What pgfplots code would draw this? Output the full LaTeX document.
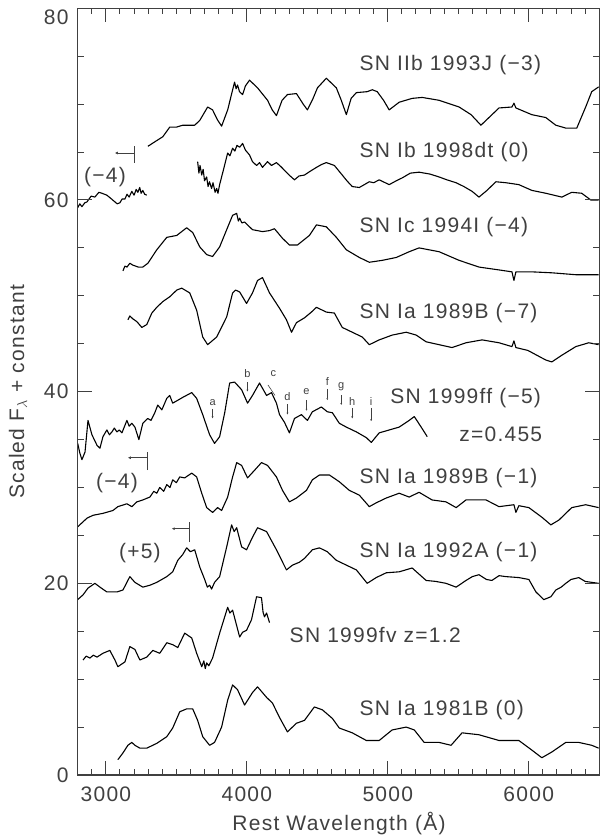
\documentclass[border=0pt]{standalone}
\usepackage{fontspec}
\setmainfont{Liberation Sans}[LetterSpace=6.0]
\usepackage{pgfplots}
\pgfplotsset{compat=1.18}
\usetikzlibrary{arrows.meta}
\definecolor{txt}{gray}{0.25}
\newcommand{\bigf}{\fontsize{21}{25}\selectfont}
\newcommand{\smf}{\fontsize{11}{13}\selectfont}
\tikzset{
  lbl/.style={font=\bigf, text=txt, anchor=west, inner sep=0pt},
  clbl/.style={font=\bigf, text=txt, inner sep=0pt},
  slbl/.style={font=\smf, text=txt, inner sep=0pt},
  bar/.style={black!75, line width=0.8pt},
  larr/.style={black!75, line width=0.8pt, {Latex[length=3pt,width=3pt]}-},
  darr/.style={black!75, line width=0.6pt, -{Latex[length=2pt,width=2pt]}},
  frm/.style={black!75, line width=1.2pt},
  tck/.style={black!75, line width=1pt},
}
\begin{document}
\begin{tikzpicture}
\path (0pt,0pt) rectangle (600pt,838pt);
\begin{axis}[
  at={(77.7pt,63pt)}, anchor=south west,
  scale only axis, width=521.5pt, height=766.7pt,
  xmin=2800, xmax=6500, ymin=0, ymax=80,
  xtick={3000,4000,5000,6000},
  minor xtick={2800,2900,...,6500},
  ytick={0,20,40,60,80},
  yticklabels={0,20,40,60,{}},
  minor ytick={5,10,...,75},
  tick align=inside, major tick length=14pt, minor tick length=6pt,
  tick style={black!75, line width=1pt},
  axis line style={black!75, line width=1.2pt},
  /pgf/number format/assume math mode=true,
  /pgf/number format/1000 sep={},
  xticklabel style={font=\bigf, text=txt, inner sep=0pt, yshift=-12pt},
  yticklabel style={font=\bigf, text=txt, inner sep=0pt, xshift=-9pt},
  spec/.style={black, line width=1.1pt, line join=round, mark=none, solid},
]
% SN IIb 1993J (-3)
\addplot[spec] coordinates {
(3298,65.6)(3340,66.0)(3404,66.6)(3453,67.6)(3500,67.6)(3545,67.8)(3630,67.8)(3666,68.3)(3722,69.7)(3757,69.4)(3790,68.4)(3821,67.7)(3864,69.4)(3913,72.3)(3924,71.6)(3934,72.0)(3948,71.3)(3970,71.0)(3990,71.9)(4019,72.5)(4076,71.7)(4147,70.4)(4180,69.4)(4210,68.8)(4250,70.4)(4288,71.0)(4352,71.1)(4400,70.0)(4430,69.4)(4470,70.6)(4501,71.7)(4564,72.7)(4635,71.7)(4670,70.4)(4706,68.9)(4740,70.6)(4777,71.2)(4854,71.3)(4890,71.5)(4925,71.3)(4970,70.4)(5010,69.4)(5081,70.2)(5173,70.6)(5244,70.7)(5364,70.4)(5506,69.7)(5591,68.9)(5661,67.8)(5718,68.6)(5789,69.6)(5881,69.7)(5895,70.1)(5909,69.6)(6022,68.9)(6121,68.6)(6192,67.8)(6263,67.5)(6341,67.5)(6404,69.7)(6447,71.3)(6496,71.8)
};
% SN Ib 1998dt (0) - short piece
\addplot[spec] coordinates {
(2800,59.2)(2815,59.6)(2830,59.3)(2850,59.7)(2866,59.8)(2895,60.4)(2922,60.3)(2950,60.8)(2972,60.7)(3007,60.5)(3040,60.1)(3064,59.8)(3080,59.6)(3099,59.7)(3115,60.1)(3135,60.1)(3150,60.6)(3165,60.3)(3184,60.9)(3200,60.5)(3215,61.1)(3227,60.8)(3240,61.3)(3250,60.7)(3262,61.0)(3275,60.6)(3290,60.5)
};
% SN Ib 1998dt (0) - main
\addplot[spec] coordinates {
(3651,64.0)(3660,62.8)(3668,63.6)(3680,62.6)(3690,63.2)(3700,62.0)(3715,62.4)(3725,61.4)(3735,61.9)(3750,61.2)(3760,61.8)(3775,60.8)(3786,61.2)(3795,60.7)(3807,61.6)(3828,62.8)(3864,64.9)(3880,64.6)(3899,65.4)(3915,65.1)(3930,65.7)(3949,65.5)(3970,65.9)(3990,65.2)(4019,64.7)(4040,64.0)(4069,63.6)(4090,63.9)(4111,63.4)(4147,64.0)(4175,63.6)(4210,63.9)(4240,63.5)(4267,63.1)(4300,62.6)(4338,62.1)(4370,62.5)(4409,62.6)(4450,63.0)(4494,63.4)(4530,63.7)(4564,63.9)(4621,63.6)(4677,62.6)(4710,62.0)(4748,61.4)(4798,61.3)(4869,61.9)(4900,61.8)(4939,62.1)(5010,61.6)(5060,62.0)(5102,62.3)(5160,62.8)(5222,62.9)(5300,62.7)(5364,62.4)(5420,62.1)(5484,61.8)(5540,61.4)(5598,60.9)(5647,60.3)(5704,61.0)(5767,61.9)(5838,61.8)(5930,61.6)(6022,61.0)(6121,60.7)(6235,60.3)(6305,60.8)(6376,60.7)(6440,60.0)(6496,60.0)
};
% SN Ic 1994I (-4)
\addplot[spec] coordinates {
(3121,52.6)(3135,53.1)(3150,53.0)(3170,53.4)(3191,53.2)(3230,53.0)(3262,53.0)(3298,53.4)(3361,54.8)(3432,56.1)(3503,56.3)(3573,57.1)(3616,56.6)(3666,55.1)(3715,54.3)(3757,54.1)(3807,55.1)(3857,56.9)(3899,58.4)(3928,58.6)(3940,57.8)(3949,58.1)(3965,57.6)(3984,57.7)(4040,56.9)(4111,56.7)(4160,56.8)(4196,57.0)(4253,56.0)(4302,55.3)(4359,55.3)(4444,56.3)(4494,57.4)(4564,57.2)(4635,56.1)(4706,54.8)(4798,54.0)(4869,53.5)(4961,53.7)(5060,54.0)(5152,54.6)(5222,55.0)(5364,54.6)(5506,53.7)(5647,53.0)(5789,52.7)(5881,52.5)(5895,51.6)(5909,52.5)(6022,52.5)(6164,52.4)(6334,52.2)(6496,52.2)
};
% SN Ia 1989B (-7)
\addplot[spec] coordinates {
(3156,47.5)(3170,47.9)(3191,47.6)(3220,47.3)(3255,46.7)(3290,47.0)(3326,48.2)(3361,48.8)(3404,49.4)(3453,49.9)(3503,50.6)(3538,50.8)(3595,50.3)(3644,48.5)(3687,45.7)(3722,44.9)(3786,45.7)(3857,47.8)(3899,50.3)(3920,50.6)(3949,50.4)(3998,49.2)(4040,50.3)(4076,51.6)(4111,51.9)(4161,50.3)(4232,48.7)(4281,47.5)(4317,46.2)(4352,47.2)(4409,47.7)(4458,48.3)(4494,48.8)(4564,48.3)(4621,48.2)(4677,46.7)(4748,46.2)(4819,45.7)(4869,44.9)(4939,45.4)(5031,45.9)(5131,46.2)(5202,45.9)(5272,45.2)(5364,44.9)(5456,44.6)(5555,45.1)(5669,45.4)(5789,45.1)(5881,44.7)(5895,45.3)(5909,44.6)(5994,44.3)(6121,43.3)(6164,43.1)(6235,43.8)(6334,44.7)(6426,45.1)(6496,44.9)
};
% SN 1999ff (-5), z=0.455
\addplot[spec] coordinates {
(2800,34.6)(2815,33.6)(2830,32.9)(2852,33.7)(2873,37.0)(2901,35.5)(2937,34.4)(2958,34.1)(2979,35.3)(3007,36.0)(3025,35.5)(3043,35.8)(3060,36.2)(3078,35.8)(3095,36.0)(3114,35.7)(3149,37.0)(3165,36.4)(3184,36.7)(3206,36.3)(3234,35.0)(3262,36.7)(3297,37.2)(3320,37.0)(3347,37.8)(3368,38.6)(3397,38.1)(3432,39.3)(3453,39.6)(3474,38.8)(3510,39.1)(3545,39.4)(3609,39.9)(3644,39.3)(3687,37.6)(3736,35.5)(3771,34.6)(3807,35.3)(3843,37.8)(3878,40.9)(3913,41.0)(3963,40.2)(4005,38.8)(4040,39.6)(4090,40.9)(4140,39.6)(4175,39.9)(4210,38.8)(4232,37.6)(4267,36.8)(4302,35.7)(4338,37.2)(4387,37.6)(4430,37.0)(4465,37.9)(4529,38.4)(4571,37.9)(4607,37.8)(4656,36.7)(4706,36.3)(4777,35.8)(4848,35.2)(4883,34.7)(4939,35.7)(5010,36.0)(5081,36.3)(5152,37.0)(5188,37.4)(5237,36.3)(5280,35.3)
};
% SN Ia 1989B (-1)
\addplot[spec] coordinates {
(2800,25.9)(2866,26.8)(2909,27.1)(2979,27.3)(3050,27.6)(3085,28.0)(3149,28.3)(3184,28.0)(3220,28.5)(3262,28.7)(3312,29.0)(3340,29.6)(3361,29.4)(3382,30.0)(3410,29.6)(3432,30.3)(3455,30.0)(3474,30.8)(3500,30.5)(3524,31.1)(3559,31.0)(3609,31.5)(3644,31.1)(3680,29.4)(3715,27.9)(3757,27.4)(3793,27.9)(3821,27.6)(3864,29.0)(3899,31.1)(3928,32.6)(3963,32.3)(4005,31.0)(4055,31.8)(4104,32.6)(4147,32.3)(4210,31.1)(4253,29.7)(4302,28.5)(4352,28.9)(4423,29.7)(4465,30.8)(4515,31.3)(4586,31.3)(4656,30.6)(4727,29.7)(4798,29.2)(4869,28.0)(4918,28.4)(4989,28.9)(5081,29.4)(5152,29.0)(5222,29.5)(5314,28.7)(5413,28.5)(5485,27.9)(5555,28.7)(5697,28.7)(5789,28.0)(5895,28.2)(5909,27.4)(5930,28.1)(6001,27.9)(6093,26.9)(6157,26.1)(6214,26.6)(6305,27.9)(6404,28.2)(6496,27.9)
};
% SN Ia 1992A (-1)
\addplot[spec] coordinates {
(2800,18.3)(2838,18.8)(2873,19.5)(2922,20.0)(2958,19.6)(3007,19.1)(3078,19.1)(3121,19.3)(3170,20.7)(3206,20.1)(3262,19.6)(3312,19.8)(3361,20.1)(3432,20.7)(3474,21.2)(3510,22.4)(3545,23.0)(3573,23.7)(3600,23.3)(3630,23.5)(3666,21.7)(3701,20.4)(3720,19.6)(3736,19.8)(3750,19.4)(3771,20.1)(3807,20.7)(3857,23.8)(3892,26.1)(3910,25.4)(3928,25.8)(3963,23.8)(3998,23.5)(4040,24.8)(4076,25.8)(4140,25.4)(4210,23.5)(4281,21.4)(4324,21.9)(4373,22.2)(4409,22.6)(4465,23.5)(4515,23.7)(4571,23.3)(4635,22.4)(4706,21.9)(4777,21.4)(4854,20.0)(4918,20.6)(4989,21.1)(5081,21.2)(5173,21.6)(5272,20.3)(5340,20.2)(5413,20.0)(5485,19.6)(5555,20.3)(5600,20.7)(5647,20.9)(5700,20.4)(5739,20.3)(5790,20.8)(5838,20.7)(5930,20.6)(6001,20.4)(6051,19.1)(6107,18.3)(6157,18.6)(6192,19.3)(6230,19.6)(6263,20.0)(6300,20.4)(6355,20.6)(6400,20.2)(6447,20.1)(6496,20.0)
};
% SN 1999fv z=1.2
\addplot[spec] coordinates {
(2838,12.0)(2860,12.4)(2887,12.2)(2910,12.5)(2937,12.3)(2979,12.7)(3028,13.0)(3064,12.0)(3085,11.3)(3135,11.8)(3170,13.4)(3206,13.1)(3241,12.0)(3290,12.3)(3333,13.0)(3382,12.7)(3432,13.8)(3474,13.6)(3510,13.3)(3559,14.8)(3609,14.3)(3644,12.7)(3680,11.3)(3695,11.9)(3705,11.1)(3715,11.7)(3730,11.4)(3757,12.2)(3807,14.8)(3864,17.5)(3880,16.9)(3899,17.2)(3949,14.4)(3970,14.9)(3998,15.1)(4033,16.2)(4069,18.6)(4104,18.5)(4115,17.0)(4125,16.5)(4140,16.9)(4161,15.9)
};
% SN Ia 1981B (0)
\addplot[spec] coordinates {
(3085,1.6)(3121,2.3)(3156,3.1)(3184,3.4)(3206,3.1)(3241,2.8)(3290,2.8)(3361,3.3)(3432,4.0)(3474,4.9)(3524,6.6)(3573,6.9)(3616,6.9)(3651,5.7)(3687,4.0)(3736,3.1)(3771,3.4)(3821,5.0)(3864,7.8)(3899,9.4)(3934,8.9)(3984,7.3)(4040,8.6)(4076,9.2)(4140,8.1)(4182,7.5)(4232,6.0)(4288,4.5)(4352,5.4)(4409,5.7)(4479,7.1)(4536,6.8)(4607,5.9)(4656,4.9)(4748,4.4)(4848,3.6)(4939,3.6)(5031,4.7)(5131,5.0)(5188,4.7)(5258,3.4)(5364,3.4)(5449,3.1)(5527,4.4)(5647,4.2)(5789,3.6)(5930,3.6)(6022,2.6)(6093,1.8)(6164,2.4)(6263,3.4)(6355,3.4)(6447,3.1)(6496,2.8)
};
% labels
\node[lbl] at (axis cs:4798,74.1) {SN IIb 1993J (−3)};
\node[lbl] at (axis cs:4798,65.0) {SN Ib 1998dt (0)};
\node[lbl] at (axis cs:4798,57.2) {SN Ic 1994I (−4)};
\node[lbl] at (axis cs:4798,48.2) {SN Ia 1989B (−7)};
\node[lbl] at (axis cs:5017,39.3) {SN 1999ff (−5)};
\node[lbl] at (axis cs:5506,35.6) {z=0.455};
\node[lbl] at (axis cs:4798,31.0) {SN Ia 1989B (−1)};
\node[lbl] at (axis cs:4798,23.3) {SN Ia 1992A (−1)};
\node[lbl] at (axis cs:4303,14.6) {SN 1999fv z=1.2};
\node[lbl] at (axis cs:4798,6.8) {SN Ia 1981B (0)};
\node[clbl] at (axis cs:2994,62.4) {(−4)};
\node[clbl] at (axis cs:3079,30.5) {(−4)};
\node[clbl] at (axis cs:3241,23.2) {(+5)};
\draw[larr] (axis cs:3064,64.9) -- (axis cs:3205,64.9);
\draw[bar] (axis cs:3205,63.9) -- (axis cs:3205,65.6);
\draw[larr] (axis cs:3156,33.1) -- (axis cs:3298,33.1);
\draw[bar] (axis cs:3298,31.8) -- (axis cs:3298,33.7);
\draw[larr] (axis cs:3467,25.7) -- (axis cs:3595,25.7);
\draw[bar] (axis cs:3595,24.3) -- (axis cs:3595,26.4);
% line identifications on SN 1999ff
\node[slbl] at (axis cs:3757,38.9) {a};
\draw[darr] (axis cs:3757,38.2) -- (axis cs:3757,37.2);
\node[slbl] at (axis cs:4004,41.9) {b};
\draw[darr] (axis cs:4004,41.0) -- (axis cs:4004,40.0);
\node[slbl] at (axis cs:4189,41.9) {c};
\draw[bar, line width=0.6pt] (axis cs:4150,40.7) -- (axis cs:4200,39.6);
\node[slbl] at (axis cs:4288,39.5) {d};
\draw[darr] (axis cs:4288,38.7) -- (axis cs:4288,37.6);
\node[slbl] at (axis cs:4423,40.0) {e};
\draw[darr] (axis cs:4423,39.1) -- (axis cs:4423,38.0);
\node[slbl] at (axis cs:4571,41.1) {f};
\draw[darr] (axis cs:4571,40.3) -- (axis cs:4571,39.1);
\node[slbl] at (axis cs:4670,40.5) {g};
\draw[darr] (axis cs:4670,39.6) -- (axis cs:4670,38.6);
\node[slbl] at (axis cs:4748,39.0) {h};
\draw[darr] (axis cs:4748,38.3) -- (axis cs:4748,37.2);
\node[slbl] at (axis cs:4882,39.0) {i};
\draw[darr] (axis cs:4882,38.3) -- (axis cs:4882,36.9);
\end{axis}
% frame and tick marks (same positions as the axis box)
\draw[frm] (77.7pt,63pt) rectangle (599.2pt,829.7pt);
\foreach \i in {0,...,37} {
  \pgfmathsetmacro{\xx}{77.7+\i*14.0946}
  \pgfmathsetmacro{\tl}{(\i==2||\i==12||\i==22||\i==32) ? 14 : 6}
  \draw[tck] (\xx pt,63pt) -- ++(0pt,\tl pt);
  \draw[tck] (\xx pt,829.7pt) -- ++(0pt,-\tl pt);
}
\foreach \j in {0,...,16} {
  \pgfmathsetmacro{\yy}{63+\j*47.919}
  \pgfmathsetmacro{\tl}{(mod(\j,4)==0) ? 13 : 6}
  \draw[tck] (77.7pt,\yy pt) -- ++(\tl pt,0pt);
  \draw[tck] (599.2pt,\yy pt) -- ++(-\tl pt,0pt);
}
\node[font=\bigf, text=txt, inner sep=0pt, anchor=east] at (68.7pt,820.5pt) {80};
\node[font=\bigf, text=txt, rotate=90, inner sep=0pt] at (18pt,446pt) {Scaled F$_{\lambda}$ + constant};
\node[font=\bigf, text=txt, inner sep=0pt] at (339pt,14pt) {Rest Wavelength (Å)};
\end{tikzpicture}
\end{document}
